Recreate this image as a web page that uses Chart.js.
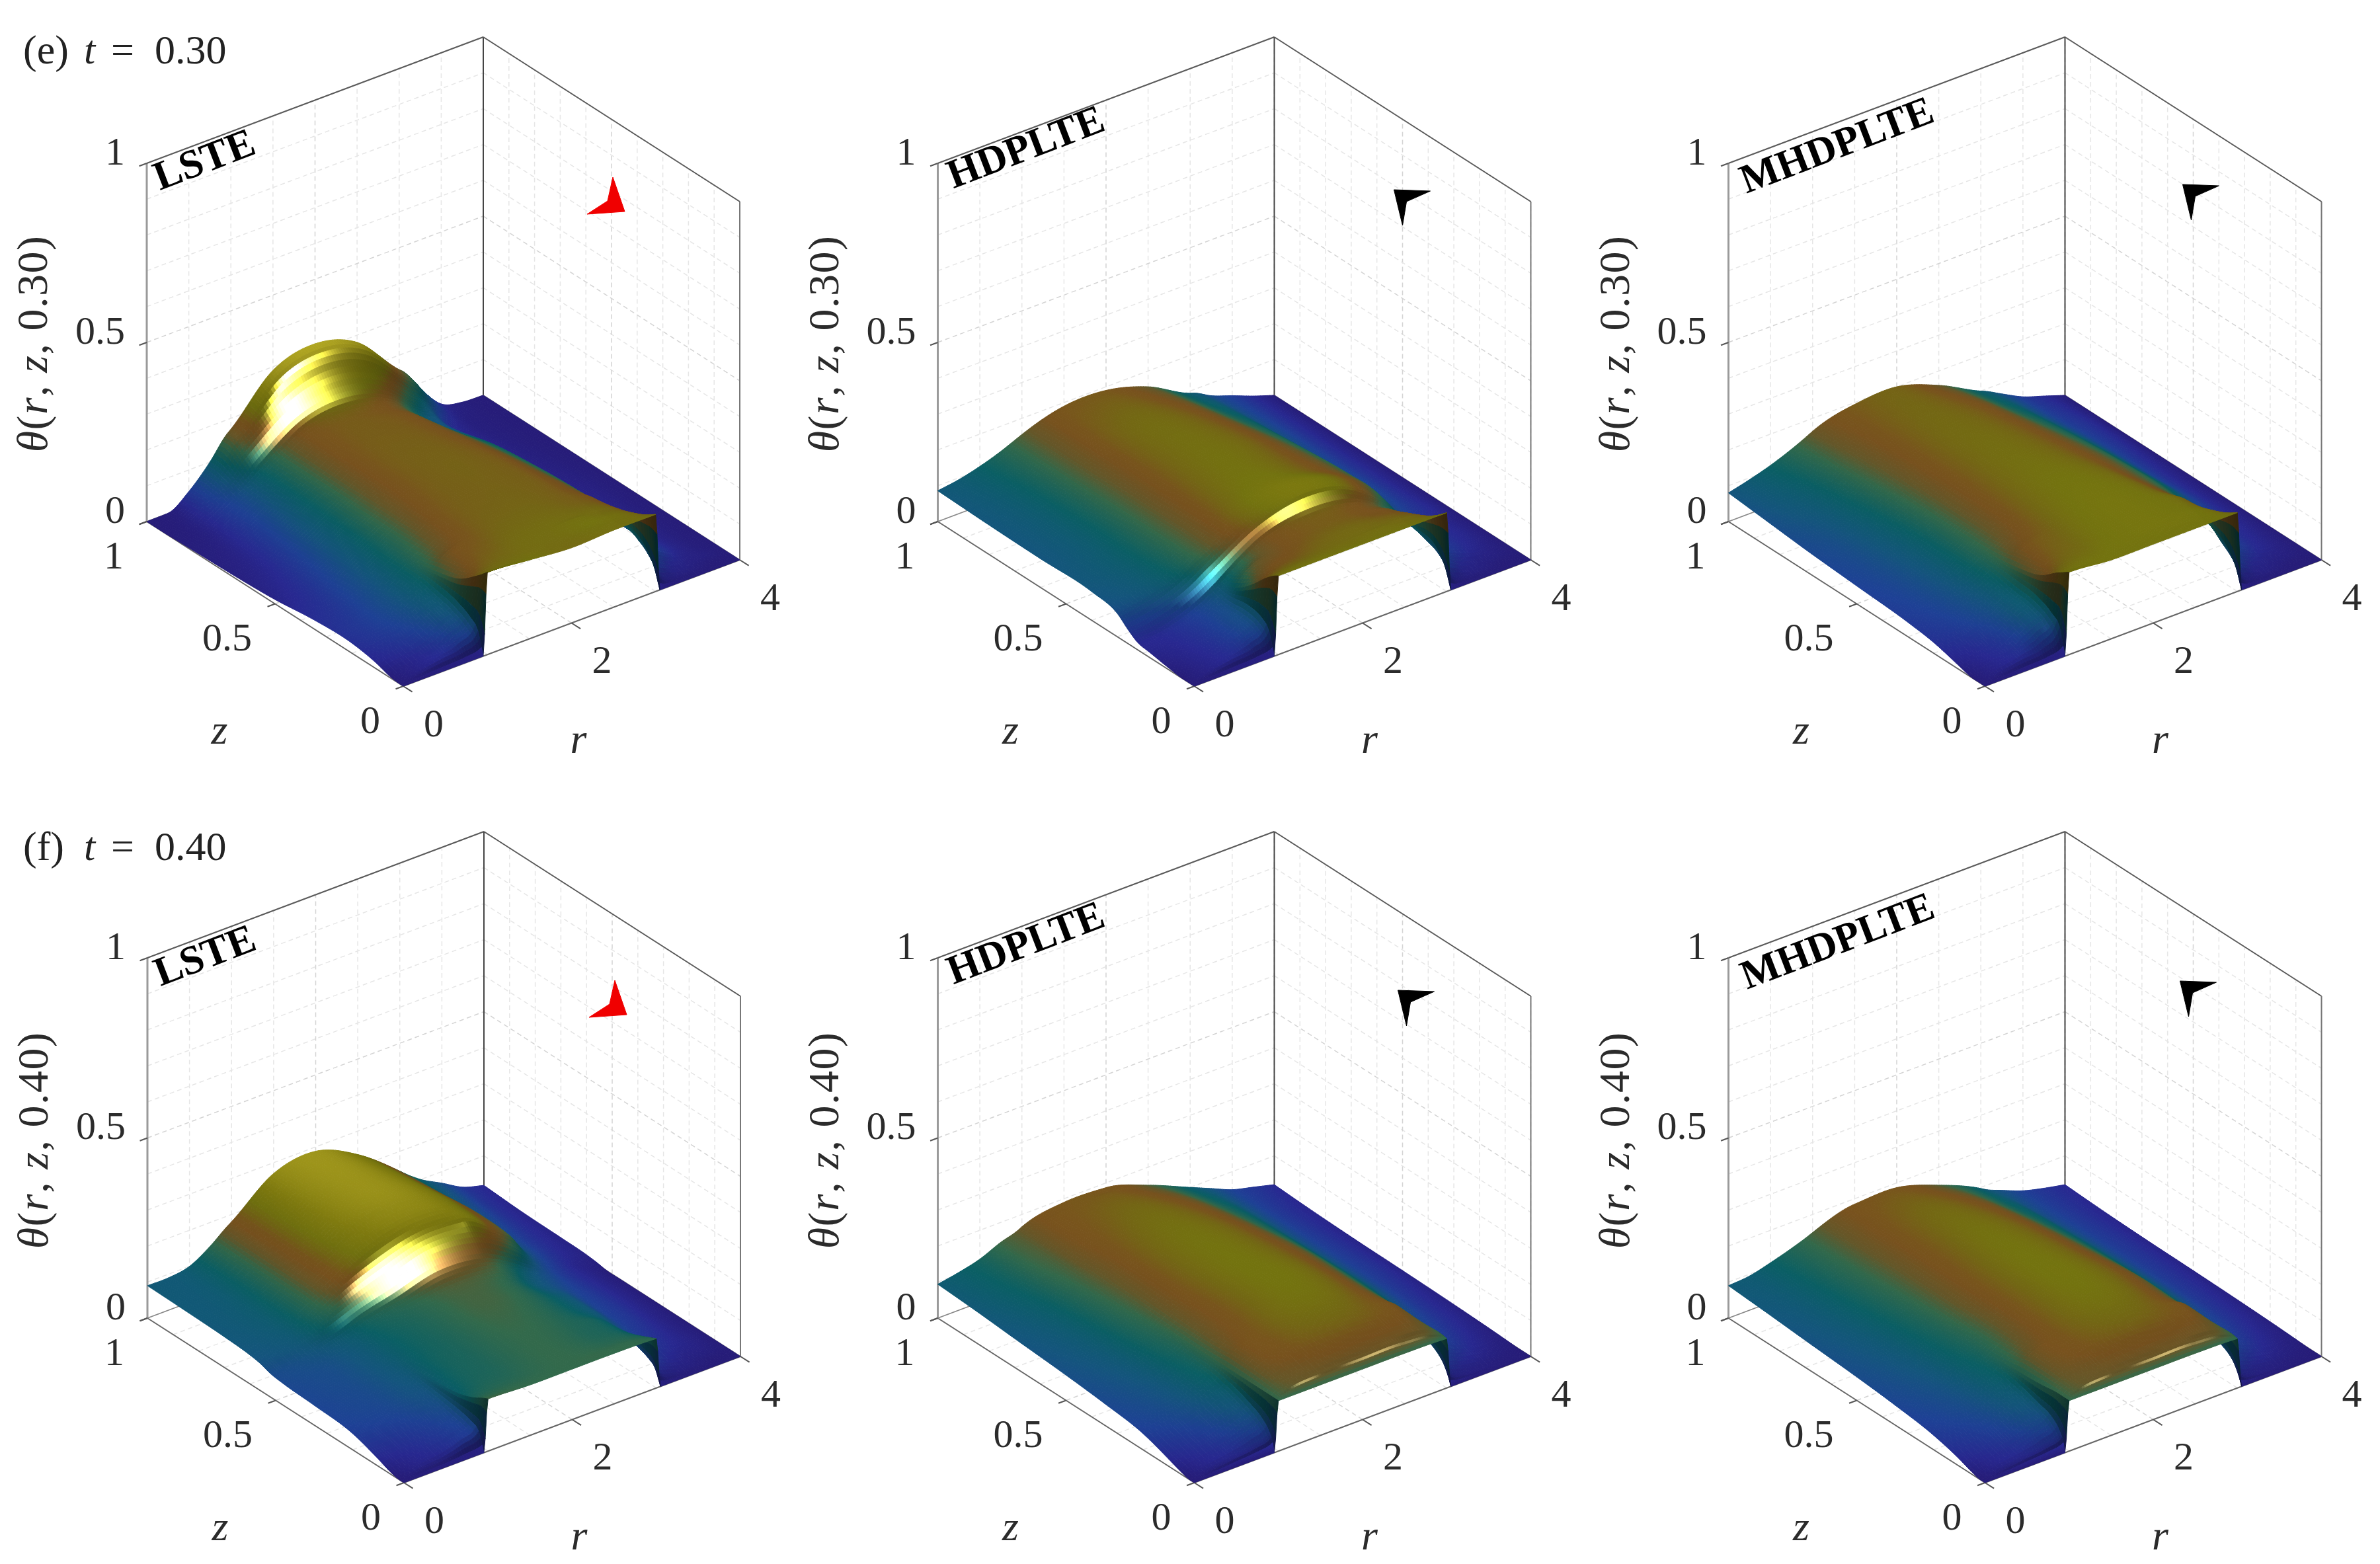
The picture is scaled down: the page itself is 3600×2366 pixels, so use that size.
<!DOCTYPE html>
<html>
<head>
<meta charset="utf-8">
<title>theta surfaces</title>
<script src="https://cdn.jsdelivr.net/npm/chart.js@4/dist/chart.umd.min.js"></script>
<style>
html, body { margin: 0; padding: 0; background: #fff; }
canvas { position: absolute; }
</style>
</head>
<body>
<script>
// r stations shared by all tables
var rGrid = [0, .25, .5, .75, .95, 1, 1.5, 2, 2.5, 3, 3.05, 3.25, 3.5, 3.75, 4];

var zLsteE = [0, .02, .05, .1, .2, .35, .5, .65, .8, .84, .88, .93, .97, 1];
var thetaLsteE = [
  [0, 0, 0, 0, 0, .23, .22, .21, .215, .215, 0, 0, 0, 0, 0],
  [0, .01, .02, .03, .06, .215, .215, .21, .215, .205, .05, .01, .005, 0, 0],
  [.003, .012, .025, .05, .085, .195, .21, .212, .218, .19, .09, .03, .01, .005, 0],
  [.015, .025, .04, .07, .105, .165, .205, .212, .212, .17, .12, .06, .02, .005, 0],
  [.028, .04, .06, .09, .12, .14, .195, .205, .2, .15, .13, .065, .02, .005, 0],
  [.025, .035, .06, .09, .118, .125, .19, .2, .198, .14, .13, .06, .02, .005, 0],
  [.012, .025, .05, .085, .112, .12, .185, .2, .195, .13, .122, .055, .015, .005, 0],
  [.006, .015, .04, .078, .108, .115, .185, .198, .185, .115, .108, .05, .012, .003, 0],
  [.003, .008, .035, .07, .105, .113, .185, .195, .175, .085, .08, .03, .008, .002, 0],
  [.002, .006, .035, .07, .105, .113, .185, .195, .17, .08, .075, .028, .007, .002, 0],
  [.001, .005, .035, .073, .11, .118, .194, .21, .178, .085, .08, .03, .007, .002, 0],
  [0, .004, .04, .09, .14, .15, .238, .262, .222, .115, .105, .05, .01, .002, 0],
  [0, .002, .04, .1, .16, .168, .282, .31, .272, .152, .142, .078, .016, .003, 0],
  [0, .001, .04, .1, .16, .17, .29, .32, .28, .16, .15, .085, .02, .003, 0]
];

var zHdE = [0, .02, .05, .1, .18, .22, .26, .3, .4, .6, .8, 1];
var thetaHdE = [
  [0, 0, 0, 0, 0, .22, .22, .22, .22, .22, 0, 0, 0, 0, 0],
  [0, .01, .02, .03, .06, .21, .215, .215, .215, .205, .05, .01, .005, 0, 0],
  [0, .012, .025, .05, .085, .19, .205, .21, .21, .185, .09, .03, .01, .005, 0],
  [.005, .015, .03, .06, .095, .15, .19, .205, .2, .16, .11, .055, .025, .01, 0],
  [.015, .02, .035, .06, .088, .105, .175, .195, .185, .128, .112, .06, .03, .015, 0],
  [.02, .025, .04, .065, .093, .102, .178, .2, .19, .125, .115, .06, .03, .015, 0],
  [.04, .05, .068, .095, .125, .132, .2, .232, .218, .14, .13, .07, .035, .015, 0],
  [.065, .075, .09, .115, .142, .148, .208, .235, .22, .15, .14, .075, .04, .02, 0],
  [.08, .088, .1, .122, .145, .15, .205, .222, .2, .148, .14, .08, .045, .02, 0],
  [.08, .088, .1, .122, .145, .15, .2, .215, .195, .135, .128, .08, .045, .02, 0],
  [.082, .09, .103, .125, .148, .153, .2, .208, .18, .115, .11, .075, .045, .02, 0],
  [.086, .095, .11, .13, .15, .155, .19, .19, .156, .094, .09, .065, .043, .02, 0]
];

var zMhdE = [0, .02, .05, .1, .2, .3, .5, .7, .85, 1];
var thetaMhdE = [
  [0, 0, 0, 0, 0, .23, .22, .22, .22, .22, 0, 0, 0, 0, 0],
  [0, .01, .02, .03, .07, .22, .22, .222, .222, .21, .05, .01, .005, 0, 0],
  [0, .015, .03, .06, .095, .205, .218, .225, .225, .195, .09, .03, .01, .005, 0],
  [.01, .02, .04, .08, .115, .175, .212, .225, .222, .17, .12, .06, .025, .01, 0],
  [.03, .04, .06, .09, .125, .15, .205, .225, .22, .155, .14, .08, .035, .015, 0],
  [.04, .05, .07, .1, .13, .14, .2, .222, .215, .15, .142, .1, .052, .02, 0],
  [.05, .06, .08, .105, .13, .137, .195, .215, .2, .145, .138, .1, .052, .02, 0],
  [.06, .07, .09, .115, .14, .146, .195, .21, .19, .13, .124, .09, .05, .025, 0],
  [.07, .085, .1, .125, .15, .155, .195, .205, .18, .115, .11, .078, .045, .025, 0],
  [.08, .095, .113, .136, .158, .164, .195, .2, .16, .1, .095, .07, .04, .02, 0]
];

var zLsteF = [0, .02, .05, .1, .2, .35, .47, .52, .56, .6, .7, .85, 1];
var thetaLsteF = [
  [0, 0, 0, 0, 0, .145, .14, .14, .14, .137, 0, 0, 0, 0, 0],
  [0, .01, .015, .03, .05, .138, .138, .14, .14, .13, .04, .01, .005, 0, 0],
  [.005, .015, .025, .04, .065, .125, .133, .14, .135, .12, .06, .025, .01, .005, 0],
  [.02, .025, .035, .05, .075, .11, .128, .14, .13, .105, .075, .04, .02, .01, 0],
  [.045, .05, .055, .07, .085, .1, .125, .14, .13, .095, .085, .05, .03, .012, 0],
  [.055, .06, .065, .08, .095, .1, .125, .145, .135, .09, .085, .055, .035, .015, 0],
  [.06, .065, .07, .085, .1, .105, .13, .15, .145, .085, .08, .06, .035, .015, 0],
  [.065, .07, .08, .095, .11, .115, .145, .175, .165, .1, .092, .065, .035, .015, 0],
  [.075, .08, .09, .115, .135, .14, .18, .215, .205, .135, .125, .075, .04, .015, .005],
  [.08, .085, .095, .125, .152, .16, .215, .245, .24, .158, .15, .085, .045, .02, .008],
  [.085, .09, .1, .13, .165, .172, .245, .275, .25, .165, .155, .09, .05, .025, .01],
  [.088, .09, .1, .13, .167, .175, .26, .285, .245, .155, .145, .095, .06, .03, .012],
  [.09, .09, .1, .135, .172, .18, .27, .288, .235, .145, .135, .1, .068, .035, .018]
];

var zHdF = [0, .006, .02, .05, .1, .2, .35, .5, .7, .85, 1];
var thetaHdF = [
  [0, 0, 0, 0, 0, .14, .14, .14, .14, .137, 0, 0, 0, 0, 0],
  [0, .005, .01, .015, .025, .14, .16, .16, .16, .138, .015, .005, .003, .001, 0],
  [0, .012, .02, .03, .05, .14, .165, .167, .167, .14, .04, .012, .006, .002, 0],
  [.006, .018, .03, .05, .075, .14, .172, .178, .176, .14, .07, .03, .015, .006, 0],
  [.02, .03, .045, .07, .095, .14, .185, .195, .19, .135, .095, .055, .028, .012, .002],
  [.045, .055, .07, .095, .12, .14, .195, .212, .2, .135, .12, .07, .04, .02, .005],
  [.06, .07, .085, .11, .13, .14, .195, .22, .205, .135, .125, .085, .048, .025, .008],
  [.07, .08, .095, .12, .14, .147, .2, .22, .2, .135, .125, .085, .05, .03, .01],
  [.08, .09, .105, .13, .15, .155, .2, .215, .19, .125, .118, .082, .05, .03, .012],
  [.088, .1, .115, .14, .155, .162, .195, .205, .175, .115, .11, .08, .05, .03, .015],
  [.094, .105, .12, .145, .16, .166, .19, .187, .15, .1, .095, .075, .05, .035, .02]
];

var zMhdF = [0, .006, .02, .05, .1, .2, .35, .5, .7, .85, 1];
var thetaMhdF = [
  [0, 0, 0, 0, 0, .14, .14, .14, .14, .137, 0, 0, 0, 0, 0],
  [0, .005, .01, .015, .025, .14, .16, .16, .16, .138, .015, .005, .003, .001, 0],
  [0, .012, .02, .03, .05, .14, .165, .167, .167, .14, .04, .012, .006, .002, 0],
  [.006, .018, .03, .05, .075, .14, .17, .177, .175, .14, .07, .03, .015, .006, 0],
  [.02, .03, .045, .07, .09, .135, .182, .195, .19, .135, .09, .055, .028, .012, .002],
  [.04, .05, .065, .09, .112, .13, .19, .212, .2, .132, .118, .07, .04, .02, .005],
  [.055, .065, .08, .105, .122, .128, .19, .22, .205, .135, .122, .082, .045, .025, .008],
  [.065, .075, .09, .112, .13, .136, .192, .22, .2, .13, .12, .082, .047, .028, .01],
  [.075, .085, .1, .12, .138, .143, .19, .215, .19, .12, .113, .078, .047, .03, .012],
  [.083, .09, .105, .125, .142, .147, .19, .205, .175, .11, .105, .072, .047, .03, .015],
  [.09, .095, .11, .128, .145, .15, .185, .187, .15, .097, .09, .07, .047, .032, .02]
];

var rTickLabels = [0, 2, 4];
var zTickLabels = [0, 0.5, 1];
var thetaTickLabels = [0, 0.5, 1];
var rGridLines = [0, .5, 1, 1.5, 2, 2.5, 3, 3.5, 4];
var tenthLines = [0, .1, .2, .3, .4, .5, .6, .7, .8, .9, 1];

// theta -> colour
var colourAt = [0, .02, .05, .08, .11, .14, .16, .18, .19, .205, .22, .25, .3, .35];
var colourRgb = [
  [38, 28, 120], [40, 40, 145], [30, 65, 150], [20, 85, 125], [10, 95, 100], [50, 105, 75],
  [100, 88, 42], [120, 82, 30], [120, 85, 28], [115, 102, 20], [115, 115, 15], [130, 125, 15], [165, 155, 30], [200, 190, 40]
];

// axis lengths on the page
var rVec = [509, -191];
var zVec = [-388, -249];

var markerRed = [[317, -770], [335, -718], [278, -714], [309, -734]];
var markerBlack = [[357, -749], [321, -733], [315, -697], [302, -751]];

var panels = [
  { name: 'LSTE', t: '0.30', title: '(e)', left: 0, top: 0, h: 1200, fx: 610, fy: 1038, up: 542, z: zLsteE, theta: thetaLsteE,
    marker: markerRed, markerColor: '#f00000', shift: [0, 0], nameAt: [-300, -793] },
  { name: 'HDPLTE', t: '0.30', left: 1200, top: 0, h: 1200, fx: 606.5, fy: 1038, up: 542, z: zHdE, theta: thetaHdE,
    marker: markerBlack, markerColor: '#000', shift: [0, 0], nameAt: [-254, -812] },
  { name: 'MHDPLTE', t: '0.30', left: 2400, top: 0, h: 1200, fx: 602.5, fy: 1038, up: 542, z: zMhdE, theta: thetaMhdE,
    marker: markerBlack, markerColor: '#000', shift: [-3, -8], nameAt: [-223, -815] },
  { name: 'LSTE', t: '0.40', title: '(f)', left: 0, top: 1200, h: 1166, fx: 611, fy: 1043, up: 545, z: zLsteF, theta: thetaLsteF,
    marker: markerRed, markerColor: '#f00000', shift: [2, 10], nameAt: [-300, -794] },
  { name: 'HDPLTE', t: '0.40', left: 1200, top: 1200, h: 1166, fx: 606.5, fy: 1043, up: 545, z: zHdF, theta: thetaHdF,
    marker: markerBlack, markerColor: '#000', shift: [6, 6], nameAt: [-254, -813] },
  { name: 'MHDPLTE', t: '0.40', left: 2400, top: 1200, h: 1166, fx: 602.5, fy: 1043, up: 545, z: zMhdF, theta: thetaMhdF,
    marker: markerBlack, markerColor: '#000', shift: [-7, -8], nameAt: [-222, -816] }
];

var SERIF = '"Liberation Serif", serif';

function project(p, r, z, th) {
  return {
    x: p.fx + (r / 4) * rVec[0] + z * zVec[0],
    y: p.fy + (r / 4) * rVec[1] + z * zVec[1] - th * p.up
  };
}

function lineSet(points, color, width, dash) {
  return { type: 'scatter', showLine: true, data: points, borderColor: color, borderWidth: width,
    borderDash: dash || [], pointRadius: 0, fill: false };
}

function frameDatasets(p) {
  var out = [];
  var light = '#e6e6e6', major = '#d4d4d4', dash = [7, 5];
  function P(r, z, th) { return project(p, r, z, th); }
  function gridCol(test) { return test ? major : light; }

  rGridLines.forEach(function (r) {
    out.push(lineSet([P(r, 1, 0), P(r, 1, 1)], gridCol(r == 2), 1.5, dash));
    out.push(lineSet([P(r, 0, 0), P(r, 1, 0)], gridCol(r == 2), 1.5, dash));
  });
  tenthLines.forEach(function (v) {
    out.push(lineSet([P(0, 1, v), P(4, 1, v)], gridCol(v == .5), 1.5, dash));
    out.push(lineSet([P(4, 1, v), P(4, 0, v)], gridCol(v == .5), 1.5, dash));
    out.push(lineSet([P(4, v, 0), P(4, v, 1)], gridCol(v == .5), 1.5, dash));
    out.push(lineSet([P(0, v, 0), P(4, v, 0)], gridCol(v == .5), 1.5, dash));
  });

  // box edges
  out.push(lineSet([P(0, 1, 0), P(0, 1, 1)], '#9a9a9a', 3));
  out.push(lineSet([P(0, 1, 1), P(4, 1, 1)], '#5a5a5a', 2));
  out.push(lineSet([P(4, 1, 0), P(4, 1, 1)], '#444', 2));
  out.push(lineSet([P(4, 1, 1), P(4, 0, 1)], '#5a5a5a', 2));
  out.push(lineSet([P(4, 0, 0), P(4, 0, 1)], '#777', 2));
  out.push(lineSet([P(0, 1, 0), P(0, 0, 0)], '#666', 2));
  out.push(lineSet([P(0, 0, 0), P(4, 0, 0)], '#666', 2));
  out.push(lineSet([P(0, 1, 0), P(4, 1, 0)], '#888', 1.5));
  out.push(lineSet([P(4, 1, 0), P(4, 0, 0)], '#888', 1.5));

  // ticks
  thetaTickLabels.forEach(function (v) { out.push(lineSet([P(0, 1, v), P(-.09, 1, v)], '#555', 2)); });
  zTickLabels.forEach(function (v) { out.push(lineSet([P(0, v, 0), P(-.09, v, 0)], '#555', 2)); });
  rTickLabels.forEach(function (v) { out.push(lineSet([P(v, 0, 0), P(v, -.035, 0)], '#555', 2)); });

  // arrow head marker on the r = 4 wall
  var head = p.marker.map(function (m) { return { x: p.fx + m[0] + p.shift[0], y: p.fy + m[1] + p.shift[1] }; });
  head.push(head[0]);
  out.push({ type: 'scatter', showLine: true, data: head, borderColor: p.markerColor, borderWidth: 1,
    backgroundColor: p.markerColor, fill: 'shape', pointRadius: 0 });
  // chart.js paints the first dataset last
  return out.reverse();
}

// cubic between table stations, slopes limited so the steps do not ring
function slopesOf(x, y) {
  var n = x.length, h = [], d = [], m = [], i;
  for (i = 0; i < n - 1; i++) { h[i] = x[i + 1] - x[i]; d[i] = (y[i + 1] - y[i]) / h[i]; }
  m[0] = d[0]; m[n - 1] = d[n - 2];
  for (i = 1; i < n - 1; i++) {
    var a = Math.abs(d[i - 1]), b = Math.abs(d[i]);
    var s = (d[i - 1] * h[i] + d[i] * h[i - 1]) / (h[i - 1] + h[i]);
    var lim;
    if (d[i - 1] * d[i] > 0) lim = 3 * Math.min(a, b);
    else if (Math.max(a, b) > 1.5) lim = 0;
    else lim = Math.max(a, b);
    m[i] = Math.max(-lim, Math.min(lim, s));
  }
  return m;
}

function evalAt(x, y, m, t) {
  var i = 0;
  while (i < x.length - 2 && t > x[i + 1]) i++;
  var h = x[i + 1] - x[i], s = (t - x[i]) / h;
  var s2 = s * s, s3 = s2 * s;
  return (2 * s3 - 3 * s2 + 1) * y[i] + (s3 - 2 * s2 + s) * h * m[i] + (-2 * s3 + 3 * s2) * y[i + 1] + (s3 - s2) * h * m[i + 1];
}

function refine(grid, step) {
  var out = [];
  for (var i = 0; i < grid.length - 1; i++) {
    var n = Math.max(3, Math.ceil((grid[i + 1] - grid[i]) / step));
    for (var k = 0; k < n; k++) out.push(grid[i] + (grid[i + 1] - grid[i]) * k / n);
  }
  out.push(grid[grid.length - 1]);
  return out;
}

function shade(th, gr, gz) {
  var i = 0;
  while (i < colourAt.length - 2 && th > colourAt[i + 1]) i++;
  var f = Math.min(1, Math.max(0, (th - colourAt[i]) / (colourAt[i + 1] - colourAt[i])));
  var a = colourRgb[i], b = colourRgb[i + 1];
  var nx = -gr * 2, ny = -gz, len = Math.sqrt(nx * nx + ny * ny + 1);
  var nz = 1 / len;
  var dot = Math.max(0, (nx * -0.17 + ny * -0.70 + 0.70) / len);
  var spec = Math.pow(dot, 100) * Math.min(1, Math.max(0, (th - .06) / .12));
  var diff = 0.35 + 0.65 * nz;
  var gain = diff * (1 + 2.2 * spec);
  var out = [];
  for (var c = 0; c < 3; c++) {
    var v = (a[c] + (b[c] - a[c]) * f) * gain + spec * 140;
    out.push(Math.min(255, Math.round(v)));
  }
  return 'rgb(' + out[0] + ',' + out[1] + ',' + out[2] + ')';
}

var surfacePlugin = {
  id: 'surface',
  afterDatasetsDraw: function (chart) {
    var p = chart.options.plugins.surface.panel;
    var ctx = chart.ctx, sx = chart.scales.x, sy = chart.scales.y;
    var zf = refine(p.z, .0125), rf = refine(rGrid, .03);
    var i, j, k;

    var cols = [];
    for (j = 0; j < rGrid.length; j++) {
      var col = p.theta.map(function (row) { return row[j]; });
      var mz = slopesOf(p.z, col);
      cols.push(zf.map(function (z) { return evalAt(p.z, col, mz, z); }));
    }
    var F = [];
    for (i = 0; i < zf.length; i++) {
      var row = cols.map(function (c) { return c[i]; });
      var mr = slopesOf(rGrid, row);
      F.push(rf.map(function (r) { return evalAt(rGrid, row, mr, r); }));
    }
    var X = [], Y = [];
    for (i = 0; i < zf.length; i++) {
      X.push([]); Y.push([]);
      for (k = 0; k < rf.length; k++) {
        var q = project(p, rf[k], zf[i], F[i][k]);
        X[i].push(sx.getPixelForValue(q.x));
        Y[i].push(sy.getPixelForValue(q.y));
      }
    }

    ctx.save();
    ctx.lineWidth = 1;
    ctx.lineJoin = 'round';
    // far corner (r = 4, z = 1) first, front corner last
    for (k = rf.length - 2; k >= 0; k--) {
      for (i = zf.length - 2; i >= 0; i--) {
        var dr = rf[k + 1] - rf[k], dz = zf[i + 1] - zf[i];
        var a = F[i][k], b = F[i][k + 1], c = F[i + 1][k + 1], d = F[i + 1][k];
        var gz = (c + d - a - b) / (2 * dz);
        // the thin ribbon at the z = 0 edge takes no light of its own
        if (zf[i] < .006 && gz > 0) gz = 0;
        var col2 = shade((a + b + c + d) / 4, (b + c - a - d) / (2 * dr), gz);
        ctx.fillStyle = col2;
        ctx.strokeStyle = col2;
        ctx.beginPath();
        ctx.moveTo(X[i][k], Y[i][k]);
        ctx.lineTo(X[i][k + 1], Y[i][k + 1]);
        ctx.lineTo(X[i + 1][k + 1], Y[i + 1][k + 1]);
        ctx.lineTo(X[i + 1][k], Y[i + 1][k]);
        ctx.closePath();
        ctx.fill();
        ctx.stroke();
      }
    }
    ctx.restore();
    drawTexts(chart, p);
  }
};

function runWidth(ctx, runs, size) {
  var w = 0;
  runs.forEach(function (r) {
    ctx.font = (r[1] ? 'italic ' : '') + size + 'px ' + SERIF;
    w += ctx.measureText(r[0]).width;
  });
  return w;
}

function drawRuns(ctx, runs, x, y, size) {
  runs.forEach(function (r) {
    ctx.font = (r[1] ? 'italic ' : '') + size + 'px ' + SERIF;
    ctx.fillText(r[0], x, y);
    x += ctx.measureText(r[0]).width;
  });
}

function drawTexts(chart, p) {
  var ctx = chart.ctx;
  ctx.save();
  ctx.fillStyle = '#2b2b2b';
  ctx.textBaseline = 'middle';
  ctx.font = '60px ' + SERIF;

  ctx.textAlign = 'right';
  thetaTickLabels.forEach(function (v) {
    var q = project(p, 0, 1, v);
    ctx.fillText(String(v), q.x - 33, q.y - 14);
  });
  zTickLabels.forEach(function (v) {
    var q = project(p, 0, v, 0);
    ctx.fillText(String(v), q.x - 35, q.y + 55);
  });
  ctx.textAlign = 'center';
  rTickLabels.forEach(function (v) {
    var q = project(p, v, 0, 0);
    ctx.fillText(String(v), q.x + 46, q.y + 60);
  });

  ctx.font = 'italic 64px ' + SERIF;
  ctx.fillText('z', p.fx - 278, p.fy + 70);
  ctx.fillText('r', p.fx + 265, p.fy + 84);

  // rotated y title
  var runs = [['\u03b8', true], ['(', false], ['r', true], [', ', false], ['z', true], [', ' + p.t + ')', false]];
  ctx.save();
  ctx.translate(p.fx - 556, p.fy - 518);
  ctx.rotate(-Math.PI / 2);
  ctx.textAlign = 'left';
  ctx.letterSpacing = '1.5px';
  drawRuns(ctx, runs, -runWidth(ctx, runs, 66) / 2, 0, 66);
  ctx.restore();

  // model name along the top edge of the back wall
  ctx.save();
  ctx.translate(p.fx + p.nameAt[0], p.fy + p.nameAt[1]);
  ctx.rotate(-21 * Math.PI / 180);
  ctx.fillStyle = '#000';
  ctx.textAlign = 'center';
  ctx.font = 'bold 62px ' + SERIF;
  ctx.fillText(p.name, 0, 0);
  ctx.restore();

  if (p.title) {
    ctx.fillStyle = '#222';
    ctx.textAlign = 'left';
    var y = p.top ? 85 : 80;
    ctx.font = '62px ' + SERIF;
    ctx.fillText(p.title, 35, y);
    ctx.font = 'italic 62px ' + SERIF;
    ctx.fillText('t', 127, y);
    ctx.font = '62px ' + SERIF;
    ctx.fillText('=', 168, y);
    ctx.fillText(p.t, 234, y);
  }
  ctx.restore();
}

panels.forEach(function (p) {
  var cv = document.createElement('canvas');
  cv.width = 1200;
  cv.height = p.h;
  cv.style.left = p.left + 'px';
  cv.style.top = p.top + 'px';
  cv.style.width = '1200px';
  cv.style.height = p.h + 'px';
  document.body.appendChild(cv);

  // table stations as chart points
  var nodes = [];
  p.z.forEach(function (z, i) {
    rGrid.forEach(function (r, j) { nodes.push(project(p, r, z, p.theta[i][j])); });
  });
  var sets = frameDatasets(p);
  sets.push({ type: 'scatter', label: p.name, data: nodes, pointRadius: 0, showLine: false });

  new Chart(cv, {
    type: 'scatter',
    data: { datasets: sets },
    options: {
      responsive: false,
      animation: false,
      devicePixelRatio: 1,
      layout: { padding: 0 },
      scales: {
        x: { type: 'linear', min: 0, max: 1200, display: false },
        y: { type: 'linear', min: 0, max: p.h, reverse: true, display: false }
      },
      plugins: { legend: { display: false }, tooltip: { enabled: false }, surface: { panel: p } }
    },
    plugins: [surfacePlugin]
  });
});
</script>
</body>
</html>
